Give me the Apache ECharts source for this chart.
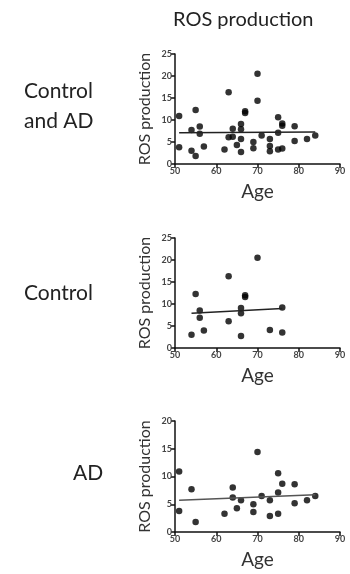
<!DOCTYPE html>
<html>
<head>
<meta charset="utf-8">
<script src="https://cdn.jsdelivr.net/npm/echarts@6/dist/echarts.min.js"></script>
<style>
  html, body { margin: 0; padding: 0; background: #fff; }
</style>
</head>
<body>
<div id="chart" style="width: 350px; height: 574px;"></div>
<script type="text/javascript">
	// Control group: [age, ROS production]
	var controlPoints = [
		[54, 3.0], [55, 12.3], [56, 8.5], [56, 6.9], [57, 4.0],
		[63, 16.3], [63, 6.1], [66, 9.1], [66, 7.9], [66, 2.7],
		[67, 12.0], [67, 11.6], [70, 20.5], [73, 4.1], [76, 9.2], [76, 3.5]
	];
	// AD group
	var adPoints = [
		[51, 10.9], [51, 3.8], [54, 7.7], [55, 1.8], [62, 3.3],
		[64, 8.0], [64, 6.2], [65, 4.3], [66, 5.7], [69, 5.0],
		[69, 3.6], [70, 14.4], [71, 6.5], [73, 5.7], [73, 2.9],
		[75, 10.6], [75, 7.1], [75, 3.3], [76, 8.7], [79, 8.6],
		[79, 5.2], [82, 5.7], [84, 6.5]
	];
	var allPoints = controlPoints.concat(adPoints);

	// fitted lines (end points)
	var allFit = [[51, 7.1], [84, 7.3]];
	var controlFit = [[54, 7.9], [76, 9.0]];
	var adFit = [[51, 5.7], [84, 6.7]];

	var rowLabels = ['Control\nand AD', 'Control', 'AD'];
	var yMax = [25, 25, 20];
	var gridTops = [54, 238, 421];
	var gridHeights = [110, 110, 111];

	var font = 'Lato';
	var axisColor = '#111';

	var grids = [], xAxes = [], yAxes = [], series = [];
	var pointSets = [allPoints, controlPoints, adPoints];
	var fitSets = [allFit, controlFit, adFit];

	for (var i = 0; i < 3; i++) {
		grids.push({ left: 175, width: 165, top: gridTops[i], height: gridHeights[i] });
		xAxes.push({
			gridIndex: i, type: 'value', min: 50, max: 90, interval: 10,
			name: 'Age', nameLocation: 'middle', nameGap: 18,
			nameTextStyle: { fontFamily: font, fontSize: 19, color: '#333' },
			axisLine: { lineStyle: { color: axisColor, width: 1.5 } },
			axisTick: { inside: false, length: 4, lineStyle: { color: axisColor, width: 1.5 } },
			axisLabel: { fontFamily: font, fontSize: 9, fontWeight: 'bold', color: '#444', margin: 3 },
			splitLine: { show: false }
		});
		yAxes.push({
			gridIndex: i, type: 'value', min: 0, max: yMax[i], interval: 5,
			name: 'ROS production', nameLocation: 'middle', nameGap: 22,
			nameTextStyle: { fontFamily: font, fontSize: 16, color: '#333' },
			axisLine: { show: true, lineStyle: { color: axisColor, width: 1.5 } },
			axisTick: { show: true, length: 4, lineStyle: { color: axisColor, width: 1.5 } },
			axisLabel: { fontFamily: font, fontSize: 9, fontWeight: 'bold', color: '#444', margin: 3 },
			splitLine: { show: false }
		});
		series.push({
			type: 'scatter', xAxisIndex: i, yAxisIndex: i,
			data: pointSets[i], symbolSize: 6.5,
			itemStyle: { color: '#000' }
		});
		series.push({
			type: 'line', xAxisIndex: i, yAxisIndex: i,
			data: fitSets[i], symbol: 'none',
			lineStyle: { color: i == 2 ? '#555' : '#222', width: 1.5 }
		});
	}

	var titles = [{
		text: 'ROS production', left: 168, top: 5,
		textStyle: { fontFamily: font, fontSize: 20, fontWeight: 'normal', color: '#222' }
	}];
	var labelTops = [71, 273, 453];
	var labelLefts = [19, 19, 68];
	for (var j = 0; j < 3; j++) {
		titles.push({
			text: rowLabels[j], left: labelLefts[j], top: labelTops[j],
			textStyle: { fontFamily: font, fontSize: 21, fontWeight: 'normal', color: '#222', lineHeight: 30 }
		});
	}

	var option = {
		animation: false,
		title: titles,
		grid: grids,
		xAxis: xAxes,
		yAxis: yAxes,
		series: series
	};

	var chart = echarts.init(document.getElementById('chart'));
	chart.setOption(option);
</script>
</body>
</html>
